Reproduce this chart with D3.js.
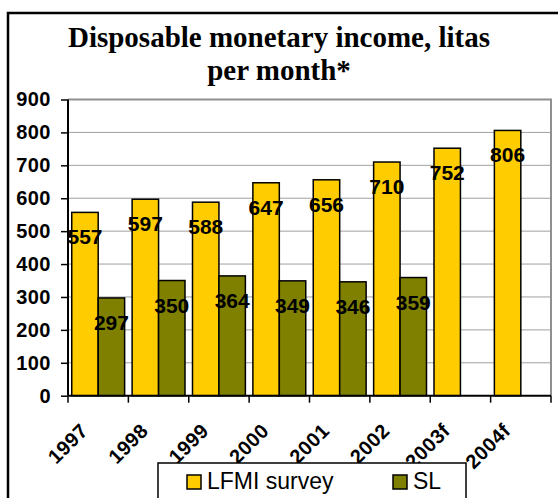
<!DOCTYPE html>
<html>
<head>
<meta charset="utf-8">
<script src="https://cdn.jsdelivr.net/npm/d3@7"></script>
<style>
  html, body { margin: 0; padding: 0; background: #fff; }
  svg { display: block; }
</style>
</head>
<body>
<svg id="chart" width="558" height="498"></svg>
<script>
// Disposable monetary income by year, two sources
const years = ["1997", "1998", "1999", "2000", "2001", "2002", "2003f", "2004f"];
const lfmiSurvey = [557, 597, 588, 647, 656, 710, 752, 806];
const slValues = [297, 350, 364, 349, 346, 359, null, null];
const seriesNames = ["LFMI survey", "SL"];
const seriesColors = ["#FFCC00", "#808000"];
const yTicks = [0, 100, 200, 300, 400, 500, 600, 700, 800, 900];
const titleLines = ["Disposable monetary income, litas", "per month*"];

const svg = d3.select("#chart");
const plot = { left: 68, right: 551, top: 99.5, bottom: 395.7 };

// Outer chart frame (runs past the right and bottom edges)
svg.append("rect")
  .attr("x", 8).attr("y", 13)
  .attr("width", 580).attr("height", 520)
  .attr("fill", "#fff").attr("stroke", "#000").attr("stroke-width", 2.5);

// Title
svg.append("g").selectAll("text").data(titleLines).join("text")
  .attr("x", 279).attr("y", (d, i) => 47 + i * 33)
  .attr("text-anchor", "middle")
  .attr("font-family", "'Liberation Serif', 'Times New Roman', serif")
  .attr("font-weight", "bold").attr("font-size", 29)
  .text(d => d);

const x0 = d3.scaleBand().domain(years).range([plot.left, plot.right]).padding(0);
const x1 = d3.scaleBand().domain(seriesNames)
  .range([3.75, x0.bandwidth() - 3.75]).padding(0);
const y = d3.scaleLinear().domain([0, 900]).range([plot.bottom, plot.top]);

// Gridlines
svg.append("g").selectAll("line").data(yTicks.filter(t => t > 0 && t < 900)).join("line")
  .attr("x1", plot.left).attr("x2", plot.right)
  .attr("y1", d => y(d)).attr("y2", d => y(d))
  .attr("stroke", "#a0a0a0").attr("stroke-width", 1);

// Plot frame (top and right)
svg.append("path")
  .attr("d", `M${plot.left},${y(900)}H${plot.right}V${plot.bottom}`)
  .attr("fill", "none").attr("stroke", "#909090").attr("stroke-width", 2);

// Bars
const rows = years.map((yr, i) => ({ year: yr, values: [lfmiSurvey[i], slValues[i]] }));
const groups = svg.append("g").selectAll("g").data(rows).join("g")
  .attr("transform", d => `translate(${x0(d.year)},0)`);

const bars = groups.selectAll("g.bar")
  .data(d => d.values.map((v, j) => ({ name: seriesNames[j], value: v, color: seriesColors[j] }))
    .filter(b => b.value != null))
  .join("g").attr("class", "bar");

bars.append("rect")
  .attr("x", d => x1(d.name))
  .attr("y", d => y(d.value))
  .attr("width", x1.bandwidth())
  .attr("height", d => y(0) - y(d.value))
  .attr("fill", d => d.color)
  .attr("stroke", "#000").attr("stroke-width", 1.5);

bars.append("text")
  .attr("x", d => x1(d.name) + x1.bandwidth() / 2)
  .attr("y", d => y(d.value) + 32)
  .attr("text-anchor", "middle")
  .attr("font-family", "Arial, 'Liberation Sans', sans-serif")
  .attr("font-weight", "bold").attr("font-size", 21)
  .text(d => d.value);

// Y axis
const yAxis = d3.axisLeft(y).tickValues(yTicks).tickSize(7).tickPadding(10);
const gy = svg.append("g").attr("transform", `translate(${plot.left},0)`).call(yAxis);
gy.select(".domain").attr("stroke", "#000").attr("stroke-width", 2)
  .attr("d", `M0,${plot.top}V${plot.bottom}`);
gy.selectAll(".tick line").attr("stroke", "#000").attr("stroke-width", 1.5);
gy.selectAll(".tick text")
  .attr("font-family", "Arial, 'Liberation Sans', sans-serif")
  .attr("font-weight", "bold").attr("font-size", 20)
  .attr("letter-spacing", 0.5)
  .attr("fill", "#000");

// X axis: ticks at category boundaries
const gx = svg.append("g");
gx.append("line")
  .attr("x1", plot.left).attr("x2", plot.right)
  .attr("y1", plot.bottom).attr("y2", plot.bottom)
  .attr("stroke", "#000").attr("stroke-width", 2);
const bounds = years.map(yr => x0(yr)).concat([plot.right]);
gx.selectAll("line.tk").data(bounds).join("line").attr("class", "tk")
  .attr("x1", d => d).attr("x2", d => d)
  .attr("y1", plot.bottom).attr("y2", plot.bottom + 7)
  .attr("stroke", "#000").attr("stroke-width", 1.5);
gx.selectAll("text").data(years).join("text")
  .attr("transform", d => `translate(${x0(d) + x0.bandwidth() / 2 - 9},432) rotate(-45)`)
  .attr("text-anchor", "end")
  .attr("font-family", "Arial, 'Liberation Sans', sans-serif")
  .attr("font-weight", "bold").attr("font-size", 20)
  .attr("letter-spacing", 0.5)
  .text(d => d);

// Legend
const legend = svg.append("g");
legend.append("rect")
  .attr("x", 158).attr("y", 463).attr("width", 308).attr("height", 60)
  .attr("fill", "#fff").attr("stroke", "#000").attr("stroke-width", 1.5);
const legendX = [187, 393];
const items = legend.selectAll("g").data(seriesNames).join("g")
  .attr("transform", (d, i) => `translate(${legendX[i]},475)`);
items.append("rect")
  .attr("width", 14).attr("height", 14)
  .attr("fill", (d, i) => seriesColors[i])
  .attr("stroke", "#000").attr("stroke-width", 1.5);
items.append("text")
  .attr("x", 20).attr("y", 14)
  .attr("font-family", "Arial, 'Liberation Sans', sans-serif")
  .attr("font-size", 23)
  .text(d => d);
</script>
</body>
</html>
